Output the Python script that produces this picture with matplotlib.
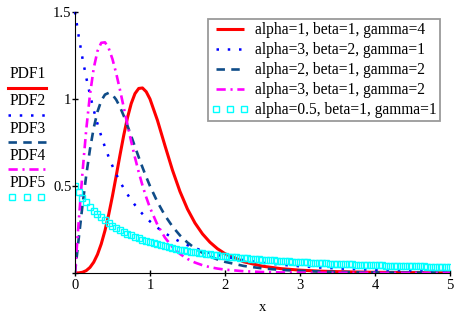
import numpy as np
import matplotlib
matplotlib.use("Agg")
import matplotlib.pyplot as plt
from matplotlib.lines import Line2D

plt.rcParams['font.family'] = ['Liberation Serif', 'DejaVu Serif']

# --- data ---
x_line = [0.0, 0.05, 0.1, 0.15, 0.2, 0.25, 0.3, 0.35, 0.4, 0.45, 0.5, 0.55, 0.6, 0.65, 0.7,
          0.75, 0.8, 0.85, 0.9, 0.95, 1.0, 1.1, 1.2, 1.3, 1.4, 1.5, 1.6, 1.7, 1.8, 1.9, 2.0,
          2.25, 2.5, 2.75, 3.0, 3.25, 3.5, 3.75, 4.0, 4.25, 4.5, 4.75, 5.0]

pdf1 = [0.0, 0.0005, 0.004, 0.0135, 0.0319, 0.062, 0.1063, 0.1665, 0.2434, 0.3364, 0.4429,
        0.5586, 0.6771, 0.7909, 0.8922, 0.9738, 1.0307, 1.0604, 1.0632, 1.0416, 1.0,
        0.8768, 0.7317, 0.591, 0.4682, 0.3673, 0.2872, 0.2247, 0.1765, 0.1393, 0.1107,
        0.0643, 0.0389, 0.0246, 0.0161, 0.0108, 0.0075, 0.0053, 0.0039, 0.0029, 0.0022,
        0.0017, 0.0013]

pdf2 = [1.5, 1.3589, 1.2341, 1.1232, 1.0245, 0.9364, 0.8576, 0.7869, 0.7234, 0.6661, 0.6144,
        0.5676, 0.5252, 0.4867, 0.4516, 0.4196, 0.3905, 0.3638, 0.3393, 0.3169, 0.2963,
        0.2599, 0.2289, 0.2024, 0.1796, 0.1599, 0.1429, 0.1281, 0.1151, 0.1037, 0.0938,
        0.0736, 0.0585, 0.0472, 0.0384, 0.0316, 0.0262, 0.022, 0.0185, 0.0157, 0.0134,
        0.0116, 0.01]

pdf3 = [0.0, 0.1985, 0.3882, 0.5613, 0.7112, 0.8337, 0.9266, 0.9898, 1.0251, 1.0352, 1.024,
        0.9956, 0.9541, 0.9033, 0.8465, 0.7864, 0.7255, 0.6653, 0.6071, 0.5518, 0.5,
        0.4076, 0.3304, 0.2671, 0.2159, 0.1748, 0.1419, 0.1155, 0.0945, 0.0776, 0.064,
        0.0404, 0.0262, 0.0175, 0.012, 0.0084, 0.006, 0.0044, 0.0033, 0.0025, 0.0019,
        0.0015, 0.0011]

pdf4 = [0.0, 0.297, 0.5766, 0.8234, 1.0258, 1.177, 1.2752, 1.3227, 1.3255, 1.2913, 1.2288,
        1.1466, 1.0523, 0.9525, 0.8521, 0.755, 0.6635, 0.5793, 0.5031, 0.4351, 0.375,
        0.2767, 0.2031, 0.149, 0.1094, 0.0807, 0.0598, 0.0446, 0.0334, 0.0252, 0.0192,
        0.01, 0.0054, 0.0031, 0.0018, 0.0011, 0.0007, 0.0004, 0.0003, 0.0002, 0.0001,
        0.0001, 0.0001]

x_box = [0.0, 0.05, 0.1, 0.15, 0.2, 0.25, 0.3, 0.35, 0.4, 0.45, 0.5, 0.55, 0.6, 0.65, 0.7,
         0.75, 0.8, 0.85, 0.9, 0.95, 1.0, 1.05, 1.1, 1.15, 1.2, 1.25, 1.3, 1.35, 1.4, 1.45,
         1.5, 1.55, 1.6, 1.65, 1.7, 1.75, 1.8, 1.85, 1.9, 1.95, 2.0, 2.05, 2.1, 2.15, 2.2,
         2.25, 2.3, 2.35, 2.4, 2.45, 2.5, 2.55, 2.6, 2.65, 2.7, 2.75, 2.8, 2.85, 2.9, 2.95,
         3.0, 3.05, 3.1, 3.15, 3.2, 3.25, 3.3, 3.35, 3.4, 3.45, 3.5, 3.55, 3.6, 3.65, 3.7,
         3.75, 3.8, 3.85, 3.9, 3.95, 4.0, 4.05, 4.1, 4.15, 4.2, 4.25, 4.3, 4.35, 4.4, 4.45,
         4.5, 4.55, 4.6, 4.65, 4.7, 4.75, 4.8, 4.85, 4.9, 4.95, 5.0]

pdf5 = [0.5, 0.4647, 0.4334, 0.4054, 0.3804, 0.3578, 0.3373, 0.3188, 0.3018, 0.2864, 0.2722,
        0.2591, 0.2471, 0.2359, 0.2256, 0.216, 0.207, 0.1987, 0.1909, 0.1836, 0.1768,
        0.1704, 0.1643, 0.1586, 0.1532, 0.1481, 0.1433, 0.1388, 0.1345, 0.1304, 0.1265,
        0.1228, 0.1193, 0.1159, 0.1127, 0.1096, 0.1067, 0.1039, 0.1012, 0.0987, 0.0962,
        0.0939, 0.0916, 0.0894, 0.0874, 0.0853, 0.0834, 0.0816, 0.0798, 0.078, 0.0764,
        0.0748, 0.0732, 0.0717, 0.0703, 0.0689, 0.0675, 0.0662, 0.0649, 0.0637, 0.0625,
        0.0614, 0.0602, 0.0591, 0.0581, 0.0571, 0.0561, 0.0551, 0.0542, 0.0533, 0.0524,
        0.0515, 0.0507, 0.0499, 0.0491, 0.0483, 0.0476, 0.0468, 0.0461, 0.0454, 0.0447,
        0.0441, 0.0434, 0.0428, 0.0422, 0.0416, 0.041, 0.0404, 0.0399, 0.0393, 0.0388,
        0.0382, 0.0377, 0.0372, 0.0367, 0.0363, 0.0358, 0.0353, 0.0349, 0.0345, 0.034]

labels = ["alpha=1, beta=1, gamma=4",
          "alpha=3, beta=2, gamma=1",
          "alpha=2, beta=1, gamma=2",
          "alpha=3, beta=1, gamma=2",
          "alpha=0.5, beta=1, gamma=1"]
names = ["PDF1", "PDF2", "PDF3", "PDF4", "PDF5"]
x_ticks = [0, 1, 2, 3, 4, 5]
y_ticks = [0, 0.5, 1, 1.5]

# --- styles ---
red = "#FF0000"
blue = "#0000FF"
navy = "#0F4C88"
magenta = "#FF00FF"
cyan = "#00FFFF"
box_style = dict(color=cyan, linestyle="none", marker="s", markersize=4.6,
                 markerfacecolor="none", markeredgewidth=1.0)

fig = plt.figure(figsize=(4.55, 3.2), dpi=100)
ax = fig.add_axes([0.1648, 0.147, 0.824, 0.8156])

l1, = ax.plot(x_line, pdf1, color=red, lw=2.2, solid_capstyle="butt")
l2, = ax.plot(x_line, pdf2, color=blue, lw=1.8, linestyle=(0, (1, 3.5)), clip_on=False)
l3, = ax.plot(x_line, pdf3, color=navy, lw=1.9, linestyle=(0, (3.2, 2.4)))
l4, = ax.plot(x_line, pdf4, color=magenta, lw=1.9, linestyle=(0, (3.5, 1.8, 0.8, 1.8)))
l5, = ax.plot(x_box, pdf5, **box_style)

ax.set_xlim(0, 5)
ax.set_ylim(0, 1.5)
ax.set_xticks(x_ticks)
ax.set_xticklabels([str(t) for t in x_ticks])
ax.set_yticks(y_ticks)
ax.set_yticklabels(["", "0.5", "1", "1.5"])
ax.spines["top"].set_visible(False)
ax.spines["right"].set_visible(False)
ax.tick_params(direction="inout", length=5, width=1, labelsize=10.5, colors="black", pad=2)
ax.tick_params(axis="y", pad=0)
ax.set_xlabel("x", fontsize=10.5, labelpad=6)
ax.patch.set_alpha(0)

leg = ax.legend([l1, l2, l3, l4, l5], labels, loc="upper left",
                bbox_to_anchor=(208 / 455, 1 - 19 / 320), bbox_transform=fig.transFigure,
                fontsize=11.2, frameon=True, fancybox=False, borderaxespad=0,
                borderpad=0.2, handlelength=2.4, handletextpad=0.4, labelspacing=0.26,
                numpoints=3)
leg.get_frame().set_edgecolor("#808080")
leg.get_frame().set_linewidth(1.3)

# stacked trace names on the left, Mathcad style
styles = [dict(color=red, lw=2.2),
          dict(color=blue, lw=1.8, linestyle=(0, (1, 3.5))),
          dict(color=navy, lw=1.9, linestyle=(0, (3.2, 2.4))),
          dict(color=magenta, lw=1.9, linestyle=(0, (3.5, 1.8, 0.8, 1.8))),
          None]
for i, name in enumerate(names):
    ty = 74 + i * 27.3
    fig.text(10 / 455, 1 - ty / 320, name, fontsize=11.2, va="center", ha="left")
    ly = 1 - (ty + 13.5) / 320
    if styles[i] is not None:
        fig.add_artist(Line2D([8 / 455, 46 / 455], [ly, ly], transform=fig.transFigure,
                              **styles[i]))
    else:
        fig.add_artist(Line2D([12 / 455, 26.5 / 455, 41 / 455], [ly, ly, ly],
                              transform=fig.transFigure, **box_style))

fig.savefig("out.png", dpi=100)
